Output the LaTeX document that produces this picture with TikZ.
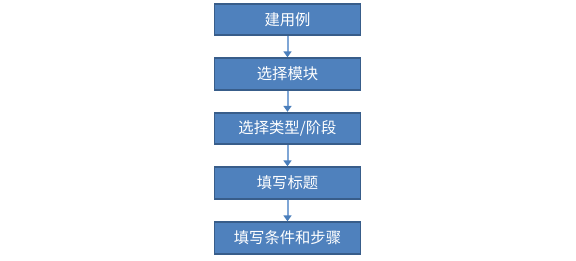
\documentclass[tikz,border=0pt]{standalone}
\usepackage{fontspec}
\newfontfamily\cjk{Noto Sans CJK SC}
\usetikzlibrary{arrows.meta}
\definecolor{boxfill}{HTML}{4F81BD}
\definecolor{boxline}{HTML}{385D8A}
\definecolor{arrline}{HTML}{7FA6D6}
\definecolor{arrhead}{HTML}{4A7EBB}
\tikzset{
  stepbox/.style={draw=boxline, line width=1.8pt*0.75, fill=boxfill, minimum width=146*0.75pt, minimum height=31.5*0.75pt, inner sep=0pt, text=white, font=\cjk\fontsize{11.5pt}{13pt}\selectfont},
  flow/.style={draw=arrline, line width=1.5pt, -{Triangle[length=4.5pt,width=6pt,color=arrhead]}}
}
\begin{document}
\begin{tikzpicture}[x=0.75pt,y=-0.75pt]
\useasboundingbox (0,0) rectangle (576,261);
\node[stepbox] (a) at (287.5,19.5) {建用例};
\node[stepbox] (b) at (287.5,74) {选择模块};
\node[stepbox] (c) at (287.5,128.5) {选择类型/阶段};
\node[stepbox] (d) at (287.5,183) {填写标题};
\node[stepbox] (e) at (287.5,238) {填写条件和步骤};
\draw[flow] (a) -- (b);
\draw[flow] (b) -- (c);
\draw[flow] (c) -- (d);
\draw[flow] (d) -- (e);
\end{tikzpicture}
\end{document}
